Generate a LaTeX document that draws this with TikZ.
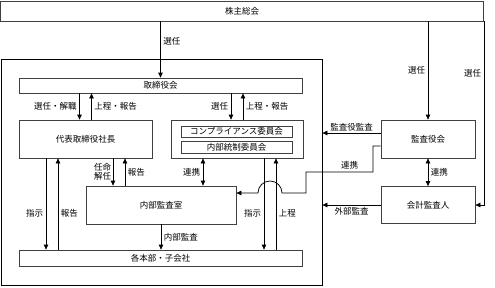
\documentclass[tikz,border=0pt]{standalone}
\usepackage{fontspec}
\setmainfont{Noto Sans CJK JP}
\usetikzlibrary{arrows.meta,positioning,calc}

\tikzset{
  box/.style={draw=black!75,line width=0.75pt,inner sep=0pt},
  arr/.style={-{Triangle[length=5pt,width=4.5pt]},line width=0.75pt,draw=black},
  darr/.style={{Triangle[length=5pt,width=4.5pt]}-{Triangle[length=5pt,width=4.5pt]},line width=0.75pt,draw=black},
  lbl/.style={font=\fontsize{8.5}{10}\selectfont,inner sep=2.5pt}
}

\begin{document}
\begin{tikzpicture}[x=1pt,y=-1pt,font=\fontsize{8.5}{10}\selectfont]
\useasboundingbox (0,0) rectangle (495,287);
% company frame
\node[draw=black,line width=0.75pt,minimum width=321pt,minimum height=226pt] (group) at (161.5,172) {};
% boxes
\node[box,minimum width=483pt,minimum height=20pt] (sh) at (242,11) {株主総会};
\node[box,minimum width=283pt,minimum height=15pt] (board) at (160.5,85.5) {取締役会};
\node[box,minimum width=133pt,minimum height=38pt] (pres) at (85.5,139) {代表取締役社長};
\node[box,minimum width=132pt,minimum height=38pt] (comm) at (237,139) {};
\node[box,minimum width=111pt,minimum height=11pt] (comp) at (236.5,131.5) {コンプライアンス委員会};
\node[box,minimum width=111pt,minimum height=12pt] (ctrl) at (236.5,147) {内部統制委員会};
\node[box,minimum width=150pt,minimum height=38pt] (iad) at (161,205) {内部監査室};
\node[box,minimum width=283pt,minimum height=16pt] (dept) at (160.5,258) {各本部・子会社};
\node[box,minimum width=94pt,minimum height=38pt] (kansa) at (428,139) {監査役会};
\node[box,minimum width=94pt,minimum height=37pt] (kaikei) at (428,205) {会計監査人};
\coordinate (kansaout) at ([yshift=6pt]kansa.west);
\coordinate (kansalink) at ([yshift=-7pt]kansa.west);
\coordinate (iadin) at ([yshift=12pt]iad.east);

% shareholders
\draw[arr] (board.north |- sh.south) -- node[lbl,right,pos=0.35]{選任} (board.north);
\draw[arr] (kansa.north |- sh.south) -- node[lbl,left]{選任} (kansa.north);
\draw[arr] (sh.south east) -- node[lbl,left,pos=0.28]{選任} (sh.south east |- kaikei.east) -- (kaikei.east);

% board
\draw[arr] ([xshift=-6pt]pres.north |- board.south) -- node[lbl,left]{選任・解職} ([xshift=-6pt]pres.north);
\draw[arr] ([xshift=6pt]pres.north) -- node[lbl,right]{上程・報告} ([xshift=6pt]pres.north |- board.south);
\draw[arr] ([xshift=-6pt]comm.north |- board.south) -- node[lbl,left]{選任} ([xshift=-6pt]comm.north);
\draw[arr] ([xshift=6pt]comm.north) -- node[lbl,right]{上程・報告} ([xshift=6pt]comm.north |- board.south);

% president
\draw[arr] ([xshift=-39.5pt]pres.south) -- node[lbl,left,pos=0.6]{指示} ([xshift=-39.5pt]pres.south |- dept.north);
\draw[arr] ([xshift=-27.5pt]pres.south |- dept.north) -- node[lbl,right,pos=0.4]{報告} ([xshift=-27.5pt]pres.south);
\draw[arr] ([xshift=27.5pt]pres.south) -- node[lbl,left,align=center,inner sep=1.5pt]{任命\\[-1pt]解任} ([xshift=27.5pt]pres.south |- iad.north);
\draw[arr] ([xshift=39.5pt]pres.south |- iad.north) -- node[lbl,right]{報告} ([xshift=39.5pt]pres.south);

% committees
\draw[darr] ([xshift=-34pt]comm.south) -- node[lbl,left]{連携} ([xshift=-34pt]comm.south |- iad.north);
\draw[arr] ([xshift=27pt]comm.south) -- node[lbl,left,pos=0.6]{指示} ([xshift=27pt]comm.south |- dept.north);
\draw[arr] ([xshift=39pt]comm.south |- dept.north) -- node[lbl,right,pos=0.4]{上程} ([xshift=39pt]comm.south);

% internal audit
\draw[arr] (iad.south) -- node[lbl,right]{内部監査} (iad.south |- dept.north);

% auditors
\draw[arr] (kansaout) -- node[lbl,above,inner sep=1.5pt]{監査役監査} (group.east |- kansaout);
\draw[arr] (kaikei.west) -- node[lbl,below,inner sep=2pt]{外部監査} (group.east |- kaikei.west);
\draw[darr] (kansa.south) -- node[lbl,right]{連携} (kaikei.north);
\draw[arr] (kansalink) -| (373,172) -- node[lbl,above,pos=0.35]{連携} (306,172) |- (282,193)
  arc[start angle=0,end angle=180,radius=12pt] -- (iadin);
\end{tikzpicture}
\end{document}
